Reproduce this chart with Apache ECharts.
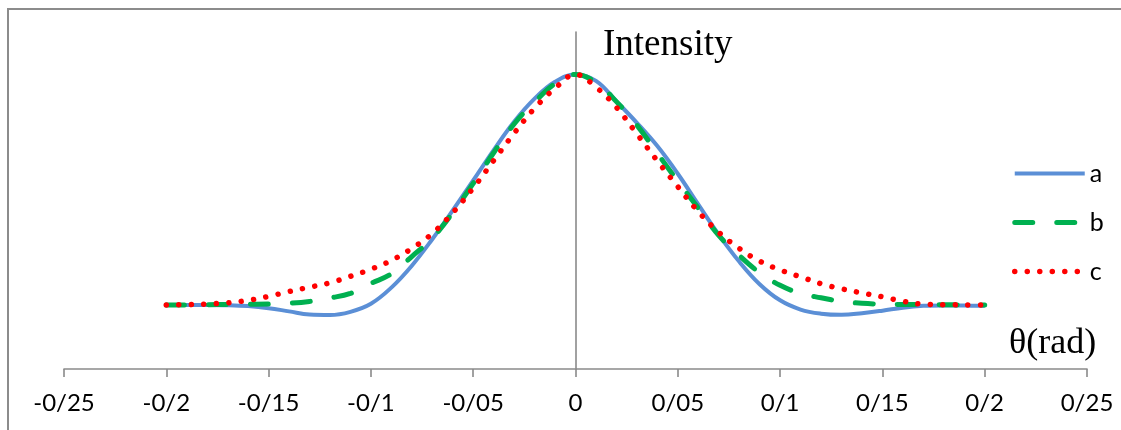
<!DOCTYPE html>
<html>
<head>
<meta charset="utf-8">
<script src="https://cdn.jsdelivr.net/npm/echarts@6/dist/echarts.min.js"></script>
<style>
html,body{margin:0;padding:0;background:#fff;}
#chart{width:1121px;height:430px;}
</style>
</head>
<body>
<div id="chart"></div>
<script>
// θ (rad) sample positions
const thetas = [-0.2,-0.19,-0.18,-0.17,-0.16,-0.15,-0.14,-0.13,-0.12,-0.11,-0.1,-0.09,-0.08,-0.07,-0.06,-0.05,-0.04,-0.03,-0.02,-0.01,0,
  0.01,0.02,0.03,0.04,0.05,0.06,0.07,0.08,0.09,0.1,0.11,0.12,0.13,0.14,0.15,0.16,0.17,0.18,0.19,0.2];
// series a (solid blue)
const seriesA = [0,0,0,-0.001,-0.005,-0.014,-0.028,-0.042,-0.044,-0.03,0.005,0.075,0.17,0.285,0.41,0.54,0.672,0.795,0.895,0.968,1.0,
  0.972,0.883,0.79,0.689,0.569,0.436,0.305,0.188,0.09,0.02,-0.02,-0.038,-0.043,-0.036,-0.025,-0.012,-0.004,-0.002,-0.003,-0.004];
// series b (green dashed)
const seriesB = [0,0,0.001,0.002,0.003,0.004,0.007,0.015,0.03,0.05,0.093,0.135,0.21,0.29,0.4,0.527,0.66,0.785,0.88,0.96,1.0,
  0.965,0.882,0.78,0.658,0.536,0.42,0.302,0.215,0.14,0.085,0.05,0.031,0.015,0.007,0.003,0.002,0.002,0.001,0,0];
// series c (red dotted)
const seriesC = [0,0.001,0.004,0.009,0.02,0.037,0.058,0.077,0.096,0.124,0.155,0.193,0.245,0.31,0.4,0.507,0.626,0.745,0.853,0.94,1.0,
  0.945,0.857,0.742,0.625,0.513,0.405,0.315,0.245,0.19,0.152,0.122,0.092,0.07,0.052,0.035,0.016,0.003,0.001,0,0];
const seriesNames = ['a','b','c'];
const xTickLabels = ['-0/25','-0/2','-0/15','-0/1','-0/05','0','0/05','0/1','0/15','0/2','0/25'];
const yTitle = 'Intensity';
const xTitle = 'θ(rad)';

const pairs = arr => thetas.map((t,i)=>[t,arr[i]]);

const chart = echarts.init(document.getElementById('chart'), null, {renderer:'canvas'});
const axisGray = '#8A8A8A';
chart.setOption({
  animation:false,
  backgroundColor:'#fff',
  grid:{left:64,right:34,top:32,bottom:61},
  xAxis:{
    type:'value',min:-0.25,max:0.25,interval:0.05,
    axisLine:{onZero:false,lineStyle:{color:axisGray,width:1.6}},
    axisTick:{show:true,length:8,lineStyle:{color:axisGray,width:1.6}},
    splitLine:{show:false},
    axisLabel:{
      margin:22,color:'#000',fontFamily:'Lato',fontSize:24,
      formatter:(v)=>{const i=Math.round((v+0.25)/0.05);return xTickLabels[i]!==undefined?xTickLabels[i]:'';}
    }
  },
  yAxis:{
    type:'value',min:-0.278,max:1.184,
    axisLine:{show:true,onZero:true,lineStyle:{color:axisGray,width:1.6}},
    axisTick:{show:false},axisLabel:{show:false},splitLine:{show:false}
  },
  legend:{
    orient:'vertical',left:1012,top:161,padding:0,itemWidth:70,itemHeight:14,itemGap:24,
    itemStyle:{opacity:0},
    lineStyle:{width:'inherit'},
    textStyle:{fontFamily:'Lato',fontSize:25,color:'#000',lineHeight:24},
    data:seriesNames
  },
  series:[
    {name:seriesNames[0],type:'line',data:pairs(seriesA),smooth:0.4,symbol:'none',
     lineStyle:{color:'#5B8FD6',width:4},itemStyle:{color:'#5B8FD6'}},
    {name:seriesNames[1],type:'line',data:pairs(seriesB),smooth:0.4,symbol:'none',
     lineStyle:{color:'#00B050',width:5,type:[18,24],cap:'round'},itemStyle:{color:'#00B050'}},
    {name:seriesNames[2],type:'line',data:pairs(seriesC),smooth:0.4,symbol:'none',
     lineStyle:{color:'#FF0000',width:5.5,type:[0.01,12.5],cap:'round'},itemStyle:{color:'#FF0000'}}
  ],
  graphic:[
    {type:'rect',shape:{x:8,y:9,width:1300,height:600},style:{fill:null,stroke:'#8C8C8C',lineWidth:2},silent:true},
    {type:'text',x:603,y:45,style:{text:yTitle,fontFamily:'Liberation Serif',fontSize:37,fill:'#000',verticalAlign:'middle',align:'left'}},
    {type:'text',x:1009,y:344,style:{text:xTitle,fontFamily:'Liberation Serif',fontSize:36,fill:'#000',verticalAlign:'middle',align:'left'}}
  ]
});
</script>
</body>
</html>
